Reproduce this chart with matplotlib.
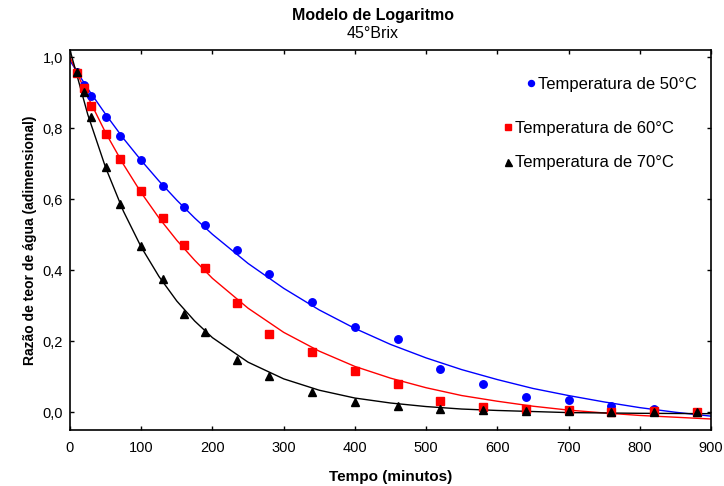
import matplotlib
matplotlib.use("Agg")
import matplotlib.pyplot as plt
from matplotlib.ticker import FuncFormatter

plt.rcParams['font.family'] = ['Liberation Sans', 'DejaVu Sans']

# tempo dos pontos experimentais (min)
tempo = [10, 20, 30, 50, 70, 100, 130, 160, 190, 235, 280, 340, 400, 460,
         520, 580, 640, 700, 760, 820, 880]

mr_50 = [0.959, 0.922, 0.890, 0.830, 0.779, 0.709, 0.638, 0.579, 0.527, 0.457,
         0.390, 0.311, 0.241, 0.205, 0.122, 0.080, 0.044, 0.034, 0.018, 0.008]
mr_60 = [0.954, 0.914, 0.862, 0.783, 0.712, 0.622, 0.547, 0.470, 0.406, 0.308,
         0.220, 0.170, 0.115, 0.079, 0.032, 0.016, 0.008, 0.006, 0.002, 0.004,
         0.002]
mr_70 = [0.959, 0.903, 0.832, 0.690, 0.587, 0.469, 0.375, 0.276, 0.225, 0.148,
         0.102, 0.058, 0.030, 0.018, 0.010, 0.006, 0.003, 0.004, 0.000, 0.000,
         0.000]

# curvas ajustadas
t_50 = [0, 25, 50, 75, 100, 125, 150, 175, 200, 250, 300, 350, 400, 450, 500,
        550, 600, 650, 700, 750, 800, 850, 900]
fit_50 = [0.990, 0.911, 0.839, 0.771, 0.709, 0.651, 0.597, 0.547, 0.501, 0.419,
          0.349, 0.288, 0.236, 0.191, 0.153, 0.120, 0.092, 0.067, 0.047, 0.029,
          0.013, 0.000, -0.011]
t_60 = t_50
fit_60 = [1.000, 0.888, 0.787, 0.698, 0.618, 0.547, 0.484, 0.428, 0.377, 0.293,
          0.225, 0.172, 0.129, 0.096, 0.069, 0.047, 0.031, 0.017, 0.006, -0.002,
          -0.009, -0.014, -0.019]
t_70 = [0, 25, 50, 75, 100, 125, 150, 175, 200, 250, 300, 350, 400, 450, 500,
        550, 600, 700, 800, 900]
fit_70 = [1.020, 0.838, 0.689, 0.566, 0.465, 0.382, 0.313, 0.257, 0.210, 0.141,
          0.094, 0.062, 0.040, 0.026, 0.016, 0.009, 0.005, -0.001, -0.003, -0.004]

fig = plt.figure(figsize=(7.24, 4.86), dpi=100)
ax = fig.add_axes([70 / 724, 1 - 430 / 486, 641 / 724, 380 / 486])

ax.plot(t_50, fit_50, color='blue', lw=1.0)
ax.plot(t_60, fit_60, color='red', lw=1.0)
ax.plot(t_70, fit_70, color='black', lw=1.0)

p50, = ax.plot(tempo[:len(mr_50)], mr_50, ls='none', marker='o', ms=5.4,
               color='blue', label='Temperatura de 50°C')
p60, = ax.plot(tempo, mr_60, ls='none', marker='s', ms=5.2,
               color='red', label='Temperatura de 60°C')
p70, = ax.plot(tempo, mr_70, ls='none', marker='^', ms=5.6,
               color='black', label='Temperatura de 70°C')

ax.set_xlim(0, 900)
ax.set_ylim(-0.05, 1.02)
ax.set_xticks(range(0, 901, 100))
ax.set_yticks([0, 0.2, 0.4, 0.6, 0.8, 1.0])
ax.yaxis.set_major_formatter(FuncFormatter(lambda v, pos: ('%.1f' % v).replace('.', ',')))
ax.tick_params(direction='in', length=3, width=1, top=True, right=True,
               labelsize=10.5)
ax.tick_params(axis='x', pad=8)
ax.tick_params(axis='y', pad=5)
for s in ax.spines.values():
    s.set_linewidth(1.2)

ax.set_xlabel('Tempo (minutos)', fontsize=11, fontweight='bold', labelpad=11)
ax.set_ylabel('Razão de teor de água (adimensional)', fontsize=10,
              fontweight='bold', labelpad=4)

fig.text(0.515, 0.968, 'Modelo de Logaritmo', ha='center', va='center',
         fontsize=11.5, fontweight='bold')
fig.text(0.515, 0.932, '45°Brix', ha='center', va='center', fontsize=11.5)

leg1 = ax.legend(handles=[p50], loc='center left', bbox_to_anchor=(0.714, 0.9105),
                 frameon=False, fontsize=12, handlelength=0.42, handletextpad=0.21,
                 borderpad=0, borderaxespad=0, numpoints=1, markerscale=0.8)
ax.add_artist(leg1)
ax.legend(handles=[p60, p70], loc='center left', bbox_to_anchor=(0.678, 0.7487),
          frameon=False, fontsize=12, handlelength=0.42, handletextpad=0.21,
          borderpad=0, borderaxespad=0, numpoints=1, markerscale=0.9,
          labelspacing=1.19)

fig.savefig('out.png', dpi=100)
